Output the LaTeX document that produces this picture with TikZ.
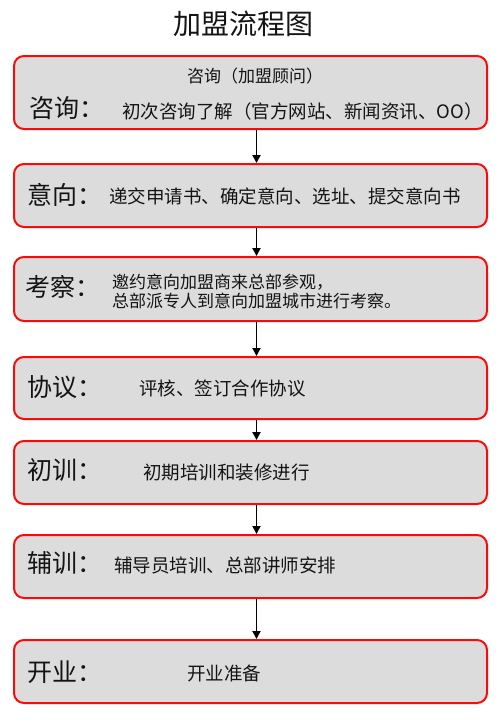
\documentclass[tikz,border=0pt]{standalone}
\usepackage{fontspec}
\setmainfont{Noto Sans CJK SC}
\usetikzlibrary{arrows.meta}
\definecolor{boxfill}{RGB}{220,220,220}
\definecolor{boxred}{RGB}{250,10,10}
\definecolor{txt}{RGB}{20,20,20}
\begin{document}
\begin{tikzpicture}[x=1pt,y=-1pt,
  stepbox/.style={draw=boxred, line width=2pt, fill=boxfill, rounded corners=10pt,
    anchor=north west, minimum width=473pt, inner sep=0pt},
  big/.style={anchor=west, inner sep=0pt, text=txt, font=\fontsize{25}{25}\selectfont},
  body/.style={anchor=west, inner sep=0pt, text=txt, font=\fontsize{18.5}{18.5}\selectfont},
  arr/.style={-{Triangle[length=8pt,width=8pt]}, line width=1.8pt}]
\useasboundingbox (0,0) rectangle (500,723);
\fill[white] (0,0) rectangle (500,723);
\node[text=txt, font=\fontsize{28}{28}\selectfont, inner sep=0pt] (title) at (243,24) {加盟流程图};
% boxes
\node[stepbox, minimum height=73pt] (b1) at (13,55) {};
\node[stepbox, minimum height=63pt] (b2) at (13,163) {};
\node[stepbox, minimum height=64pt] (b3) at (13,256) {};
\node[stepbox, minimum height=62pt] (b4) at (13,356) {};
\node[stepbox, minimum height=63pt] (b5) at (13,440) {};
\node[stepbox, minimum height=63pt] (b6) at (13,534) {};
\node[stepbox, minimum height=63pt] (b7) at (13,639) {};
% texts
\node[body, anchor=center, font=\fontsize{17}{17}\selectfont] (t1a) at (255,76) {咨询（加盟顾问）};
\node[big] (l1) at (29,108) {咨询：};
\node[body] (t1b) at (122,111) {初次咨询了解（官方网站、新闻资讯、OO）};
\node[big] (l2) at (27,195) {意向：};
\node[body] (t2) at (109,196) {递交申请书、确定意向、选址、提交意向书};
\node[big] (l3) at (25,287) {考察：};
\node[body, font=\fontsize{17}{17}\selectfont] (t3a) at (112,282.5) {邀约意向加盟商来总部参观，};
\node[body, font=\fontsize{17}{17}\selectfont] (t3b) at (112,301.5) {总部派专人到意向加盟城市进行考察。};
\node[big] (l4) at (27,387) {协议：};
\node[body] (t4) at (139,388) {评核、签订合作协议};
\node[big] (l5) at (27,470) {初训：};
\node[body] (t5) at (143,472) {初期培训和装修进行};
\node[big] (l6) at (27,563) {辅训：};
\node[body] (t6) at (114,565) {辅导员培训、总部讲师安排};
\node[big] (l7) at (27,672) {开业：};
\node[body] (t7) at (187,673) {开业准备};
% arrows
\draw[arr] ([xshift=6pt]b1.south) -- ([xshift=6pt]b2.north);
\draw[arr] ([xshift=6pt]b2.south) -- ([xshift=6pt]b3.north);
\draw[arr] ([xshift=6pt]b3.south) -- ([xshift=6pt]b4.north);
\draw[arr] ([xshift=6pt]b4.south) -- ([xshift=6pt]b5.north);
\draw[arr] ([xshift=6pt]b5.south) -- ([xshift=6pt]b6.north);
\draw[arr] ([xshift=6pt]b6.south) -- ([xshift=6pt]b7.north);
\end{tikzpicture}
\end{document}
